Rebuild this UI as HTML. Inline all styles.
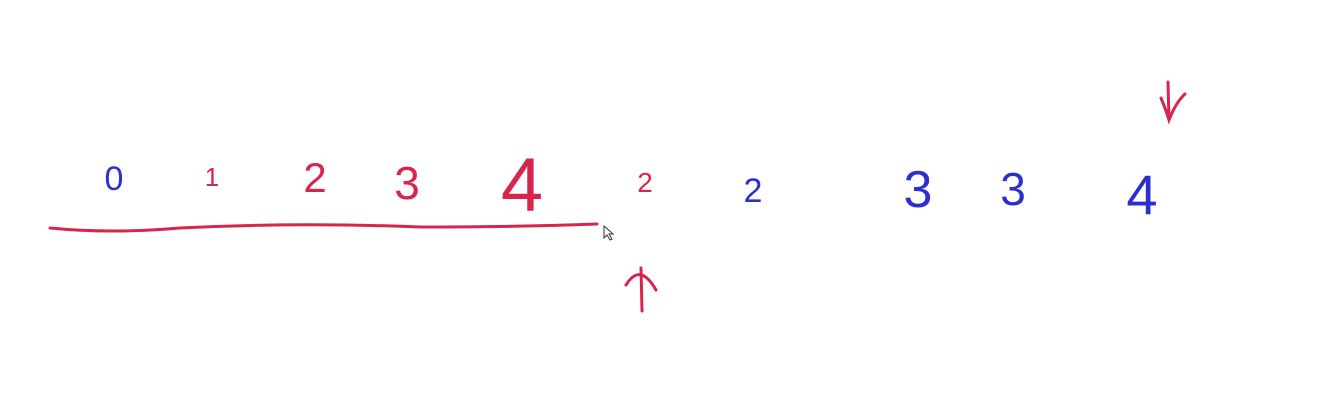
<!DOCTYPE html>
<html><head><meta charset="utf-8"><style>
html,body{margin:0;padding:0;background:#fff;width:1338px;height:410px;overflow:hidden}
svg text{font-family:"Liberation Sans",sans-serif;text-anchor:middle}
</style></head><body>
<svg width="1338" height="410">
<g fill="#2b2fd2">
<text x="114" y="190" font-size="34">0</text>
<text x="753" y="202" font-size="34">2</text>
<text x="918" y="207" font-size="52">3</text>
<text x="1013" y="205" font-size="46">3</text>
<text x="1142" y="214" font-size="56">4</text>
</g>
<g fill="#d8254c">
<text x="212" y="186" font-size="26">1</text>
<text x="315" y="192" font-size="42">2</text>
<text x="407" y="199" font-size="46">3</text>
<text x="522" y="211" font-size="76">4</text>
<text x="645" y="192" font-size="28">2</text>
</g>
<path d="M50 228 Q110 234 180 228 Q300 222 420 227 Q520 227 597 224" fill="none" stroke="#d8254c" stroke-width="3" stroke-linecap="round"/>
<path d="M641 268 L642 311 M626 285 Q640 262 656 290" fill="none" stroke="#d8254c" stroke-width="3" stroke-linecap="round"/>
<path d="M1168 82 L1169 120 M1161 98 Q1166 110 1169 120 Q1176 102 1185 94" fill="none" stroke="#d8254c" stroke-width="3" stroke-linecap="round"/>
<path d="M604 226 L604 238 L607 235 L610 240 L612 239 L609 234 L613 234 Z" fill="#fff" stroke="#333" stroke-width="1"/>
</svg>
</body></html>
